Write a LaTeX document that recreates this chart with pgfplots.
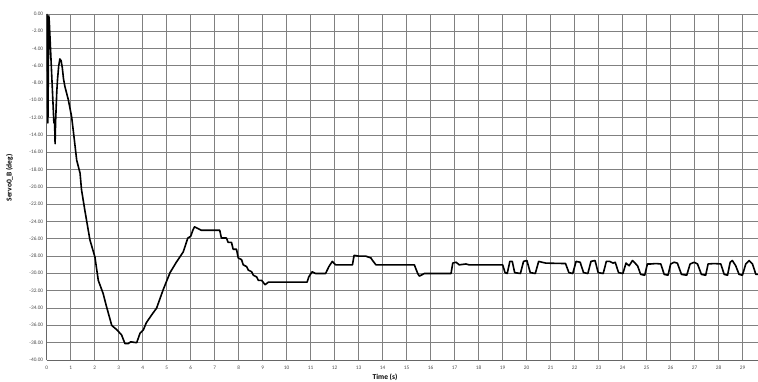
\documentclass[border=0pt]{standalone}
\usepackage{pgfplots}
\pgfplotsset{compat=1.18}
\usepackage{pgfplotstable}
\usepackage{fontspec}
\setmainfont{Carlito}[Numbers=Lining]
\pgfplotstableread{
x y
0 0
0.02 -0.3
0.05 -12.6
0.07 -6
0.09 -0.2
0.11 -1
0.30 -12.6
0.33 -12.6
0.35 -15.0
0.37 -12.5
0.42 -9.0
0.45 -7.6
0.50 -6.0
0.55 -5.2
0.60 -5.4
0.65 -6.2
0.70 -7.5
0.76 -8.4
0.90 -9.9
1.04 -11.9
1.15 -14.5
1.25 -16.9
1.39 -18.4
1.45 -20.3
1.59 -22.7
1.80 -26.1
2.01 -28.1
2.15 -30.8
2.35 -32.3
2.49 -33.8
2.71 -36.0
2.92 -36.5
3.12 -37.1
3.26 -38.1
3.40 -38.1
3.50 -37.9
3.75 -38.0
3.89 -36.9
4.03 -36.5
4.15 -35.7
4.37 -34.8
4.58 -34.0
4.85 -31.9
5.14 -29.9
5.40 -28.7
5.69 -27.5
5.88 -25.9
6.00 -25.7
6.09 -25.0
6.16 -24.6
6.30 -24.8
6.44 -25.0
7.21 -25.0
7.28 -25.9
7.49 -25.9
7.56 -26.4
7.70 -26.4
7.77 -27.2
7.91 -27.2
7.98 -28.2
8.12 -28.4
8.19 -29.0
8.33 -29.2
8.40 -29.6
8.54 -29.8
8.61 -30.2
8.75 -30.4
8.82 -30.8
8.96 -30.8
9.10 -31.3
9.24 -31.0
10.85 -31.0
10.92 -30.4
11.06 -29.8
11.20 -30.0
11.62 -30.0
11.76 -29.2
11.90 -28.6
12.04 -29.0
12.74 -29.0
12.81 -27.9
13.02 -28.0
13.30 -28.0
13.51 -28.2
13.58 -28.5
13.72 -29.0
15.32 -29.0
15.46 -30.0
15.53 -30.3
15.74 -30.0
16.85 -30.0
16.92 -28.8
17.06 -28.7
17.19 -29.0
17.47 -28.9
17.60 -29.0
19.00 -29.0
19.10 -29.9
19.19 -30.0
19.30 -28.6
19.40 -28.6
19.50 -29.9
19.74 -30.0
19.87 -28.6
20.01 -28.5
20.15 -29.9
20.36 -30.0
20.50 -28.6
20.64 -28.7
20.80 -28.8
21.62 -28.85
21.76 -29.9
21.92 -30.0
22.06 -28.6
22.23 -28.7
22.37 -29.9
22.55 -30.0
22.68 -28.6
22.85 -28.5
22.98 -29.9
23.19 -30.0
23.32 -28.6
23.46 -28.6
23.60 -28.8
23.69 -28.7
23.83 -29.9
24.01 -30.0
24.14 -28.8
24.27 -29.1
24.41 -28.5
24.62 -29.1
24.75 -30.1
24.92 -30.2
25.03 -28.9
25.17 -28.9
25.38 -28.85
25.59 -28.9
25.73 -30.1
25.89 -30.2
26.00 -28.9
26.14 -28.7
26.28 -28.8
26.45 -30.1
26.67 -30.2
26.81 -28.9
26.98 -28.7
27.12 -28.9
27.28 -30.1
27.46 -30.2
27.56 -28.9
27.81 -28.85
28.09 -28.9
28.23 -30.1
28.37 -30.2
28.48 -28.7
28.57 -28.5
28.71 -29.1
28.85 -30.1
28.99 -30.2
29.13 -28.9
29.27 -28.5
29.41 -28.9
29.55 -30.1
29.64 -30.1
}\servo
\begin{document}
\begin{tikzpicture}
\path[use as bounding box] (-46.7pt,-22pt) rectangle (711.3pt,360pt);
\begin{axis}[
  at={(0,0)}, anchor=south west,
  scale only axis, width=711.3pt, height=346pt,
  xmin=0, xmax=29.64, ymin=-40, ymax=0,
  xtick={0,...,29}, ytick={-40,-38,...,0},
  grid=major,
  major grid style={black!50, line width=0.8pt},
  axis x line*=bottom, axis y line*=left,
  axis line style={black!60, line width=0.8pt},
  tick style={draw=none},
  /pgf/number format/assume math mode=true,
  ticklabel style={font=\fontsize{5.3}{6}\selectfont, text=gray!60!black, text height=4pt, text depth=1pt},
  yticklabel style={/pgf/number format/.cd, fixed, fixed zerofill, precision=2},
  xticklabel style={yshift=-2pt},
  xlabel={Time (s)},
  ylabel={Servo0\_B (deg)},
  label style={font=\fontsize{7.5}{8}\selectfont\bfseries},
  xlabel style={at={(axis description cs:0.4756,0)}, anchor=north, yshift=-10.5pt},
  ylabel style={at={(axis description cs:-0.0523,0.526)}, anchor=center},
]
\addplot[black, line width=1.6pt, line join=round, mark=none] table {\servo};
\end{axis}
\end{tikzpicture}
\end{document}
